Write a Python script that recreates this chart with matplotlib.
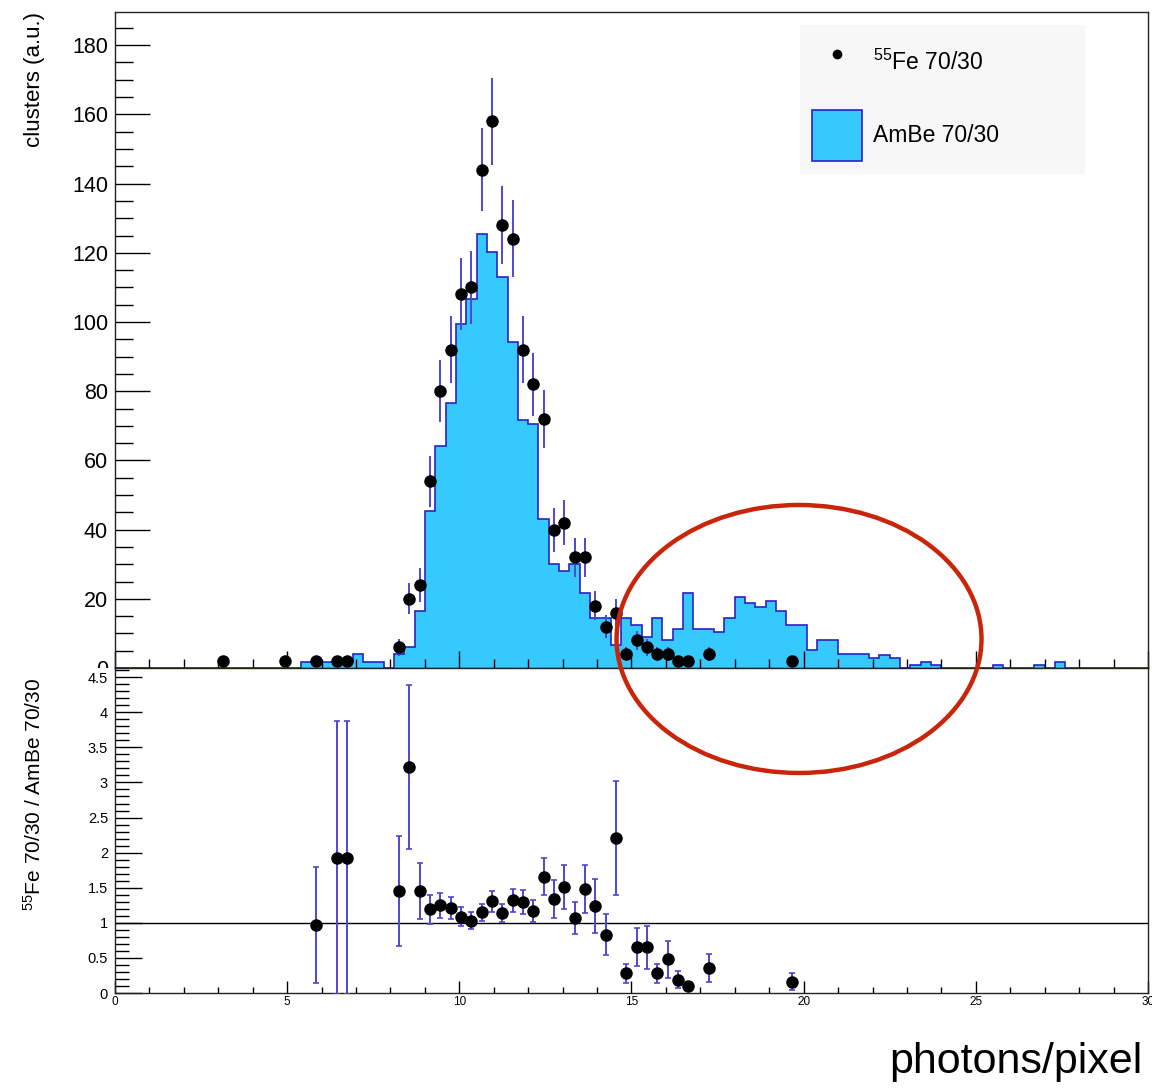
import numpy as np
import matplotlib
matplotlib.use("Agg")
import matplotlib.pyplot as plt
from matplotlib.patches import Ellipse, Patch
from matplotlib.lines import Line2D
from matplotlib.ticker import MultipleLocator
from matplotlib.transforms import Bbox, TransformedBbox

plt.rcParams['font.family'] = ['Liberation Sans', 'DejaVu Sans']
plt.rcParams['mathtext.fontset'] = 'custom'
plt.rcParams['mathtext.rm'] = 'Liberation Sans'
plt.rcParams['mathtext.it'] = 'Liberation Sans'

# AmBe 70/30 histogram, 100 bins of 0.3 photons/pixel from 0 to 30
ambe_edges = np.linspace(0, 30, 101)
ambe_counts = [0] * 18 + [
    1.8, 1.8, 1.8, 1.8, 1.8, 4.0, 1.8, 1.8, 0, 4.0,            # 18-27
    6.1, 16.6, 45.4, 64.3, 76.7, 99.4, 106.6, 125.3, 120.1, 112.9,  # 28-37
    94.3, 71.6, 70.4, 43.2, 30.0, 28.0, 30.0, 21.6, 14.5, 14.5,  # 38-47
    6.8, 14.5, 12.4, 9.0, 14.5, 8.1, 11.2, 21.6, 11.2, 11.2,    # 48-57
    10.3, 14.5, 20.4, 18.7, 17.5, 19.5, 16.6, 12.3, 12.3, 5.2,  # 58-67
    8.1, 8.1, 4.0, 4.0, 4.0, 3.0, 3.9, 3.0, 0, 0.9,             # 68-77
    1.8, 0.9, 0, 0, 0, 0, 0, 0.9, 0, 0,                         # 78-87
    0, 0.9, 0, 1.8, 0, 0, 0, 0, 0, 0, 0, 0]                     # 88-99

# 55Fe 70/30 data points (bin centres, counts)
fe_x = [3.15, 4.95, 5.85, 6.45, 6.75, 8.25, 8.55, 8.85, 9.15, 9.45,
        9.75, 10.05, 10.35, 10.65, 10.95, 11.25, 11.55, 11.85, 12.15, 12.45,
        12.75, 13.05, 13.35, 13.65, 13.95, 14.25, 14.55, 14.85, 15.15, 15.45,
        15.75, 16.05, 16.35, 16.65, 17.25, 19.65]
fe_counts = [2, 2, 2, 2, 2, 6, 20, 24, 54, 80,
             92, 108, 110, 144, 158, 128, 124, 92, 82, 72,
             40, 42, 32, 32, 18, 12, 16, 4, 8, 6,
             4, 4, 2, 2, 4, 2]
fe_err = np.sqrt(np.array(fe_counts, dtype=float))

# ratio 55Fe / AmBe
ratio_x = [5.85, 6.45, 6.75, 8.25, 8.55, 8.85, 9.15, 9.45, 9.75, 10.05,
           10.35, 10.65, 10.95, 11.25, 11.55, 11.85, 12.15, 12.45, 12.75, 13.05,
           13.35, 13.65, 13.95, 14.25, 14.55, 14.85, 15.15, 15.45, 15.75, 16.05,
           16.35, 16.65, 17.25, 19.65]
ratio_val = [0.97, 1.93, 1.93, 1.45, 3.22, 1.45, 1.19, 1.25, 1.21, 1.09,
             1.03, 1.15, 1.31, 1.14, 1.32, 1.30, 1.17, 1.66, 1.34, 1.51,
             1.07, 1.48, 1.24, 0.83, 2.21, 0.28, 0.65, 0.65, 0.28, 0.48,
             0.19, 0.10, 0.35, 0.16]
ratio_err = [0.83, 1.94, 1.94, 0.78, 1.17, 0.40, 0.20, 0.18, 0.16, 0.14,
             0.12, 0.12, 0.15, 0.13, 0.16, 0.17, 0.16, 0.27, 0.27, 0.31,
             0.23, 0.34, 0.38, 0.29, 0.81, 0.14, 0.27, 0.31, 0.14, 0.26,
             0.12, 0.06, 0.20, 0.12]

fill_col = '#36c9fd'
line_col = '#2b23c4'
err_col = '#5046d2'

fig = plt.figure(figsize=(11.52, 10.88), dpi=100)
ax1 = fig.add_axes([0.0998, 0.386, 0.8967, 0.603])
ax2 = fig.add_axes([0.0998, 0.0873, 0.8967, 0.2987])

# upper panel
ax1.stairs(ambe_counts, ambe_edges, fill=True, color=fill_col)
ax1.stairs(ambe_counts, ambe_edges, color=line_col, linewidth=1.2)
ax1.errorbar(fe_x, fe_counts, yerr=fe_err, fmt='o', color='black',
             markersize=8, ecolor=err_col, elinewidth=1.4, capsize=0, zorder=3)
ax1.set_xlim(0, 30)
ax1.set_ylim(0, 189.6)
ax1.xaxis.set_major_locator(MultipleLocator(5))
ax1.xaxis.set_minor_locator(MultipleLocator(1))
ax1.yaxis.set_major_locator(MultipleLocator(20))
ax1.yaxis.set_minor_locator(MultipleLocator(5))
ax1.tick_params(axis='x', which='major', direction='in', length=12, width=1, labelbottom=False)
ax1.tick_params(axis='x', which='minor', direction='in', length=6.5, width=1)
ax1.tick_params(axis='y', which='major', direction='in', length=25, width=1, labelsize=15.5, pad=5)
ax1.tick_params(axis='y', which='minor', direction='in', length=13, width=1)
ax1.set_ylabel('clusters (a.u.)', fontsize=16, loc='top')
ax1.yaxis.set_label_coords(-0.068, 1.0)

legend_handles = [
    Line2D([], [], marker='o', linestyle='none', color='black', markersize=6),
    Patch(facecolor=fill_col, edgecolor=line_col, linewidth=1.2),
]
leg = ax1.legend(legend_handles, [r'$^{55}$Fe 70/30', 'AmBe 70/30'],
                 loc='upper left', bbox_to_anchor=(0.663, 0.0, 0.276, 0.98),
                 mode='expand', fontsize=16.5, handlelength=2.18, handleheight=3.1,
                 handletextpad=0.48, labelspacing=0.88, borderpad=0.55,
                 borderaxespad=0, fancybox=False, facecolor='#f7f7f7',
                 edgecolor='none', framealpha=1)

# lower panel
ax2.axhline(1, color='black', linewidth=1)
ax2.errorbar(ratio_x, ratio_val, yerr=ratio_err, fmt='o', color='black',
             markersize=8, ecolor=err_col, elinewidth=1.4, capsize=2.5,
             capthick=1.2, zorder=3)
ax2.set_xlim(0, 30)
ax2.set_ylim(0, 4.63)
ax2.xaxis.set_major_locator(MultipleLocator(5))
ax2.xaxis.set_minor_locator(MultipleLocator(1))
ax2.yaxis.set_major_locator(MultipleLocator(0.5))
ax2.yaxis.set_minor_locator(MultipleLocator(0.1))
ax2.yaxis.set_major_formatter(lambda v, pos: f'{v:g}')
ax2.tick_params(axis='x', which='major', direction='in', length=8.5, width=1, labelsize=8.5, pad=2)
ax2.tick_params(axis='x', which='minor', direction='in', length=4.5, width=1)
ax2.tick_params(axis='y', which='major', direction='in', length=19.5, width=1, labelsize=10.5, pad=5)
ax2.tick_params(axis='y', which='minor', direction='in', length=10, width=1)
ax2.set_ylabel(r'$^{55}$Fe 70/30 / AmBe 70/30', fontsize=15, loc='top')
ax2.yaxis.set_label_coords(-0.068, 0.969)
ax2.set_xlabel('photons/pixel', fontsize=31, loc='right')
ax2.xaxis.set_label_coords(0.995, -0.15)

for ax in (ax1, ax2):
    for sp in ax.spines.values():
        sp.set_linewidth(1)
        sp.set_color('#222222')

# red ellipse highlighting the tail region
fig.add_artist(Ellipse((0.6936, 0.4127), 0.3168, 0.2463, transform=fig.transFigure,
                       fill=False, edgecolor='#c8250a', linewidth=3.2, zorder=10))

# upper panel tick labels are cut at the panel boundary, as in the original
fig.canvas.draw()
upper_clip = TransformedBbox(Bbox.from_extents(0, 0.386, 1, 1), fig.transFigure)
for t in ax1.yaxis.get_major_ticks():
    t.label1.set_clip_box(upper_clip)
    t.label1.set_clip_on(True)

fig.savefig('out.png', dpi=100)
